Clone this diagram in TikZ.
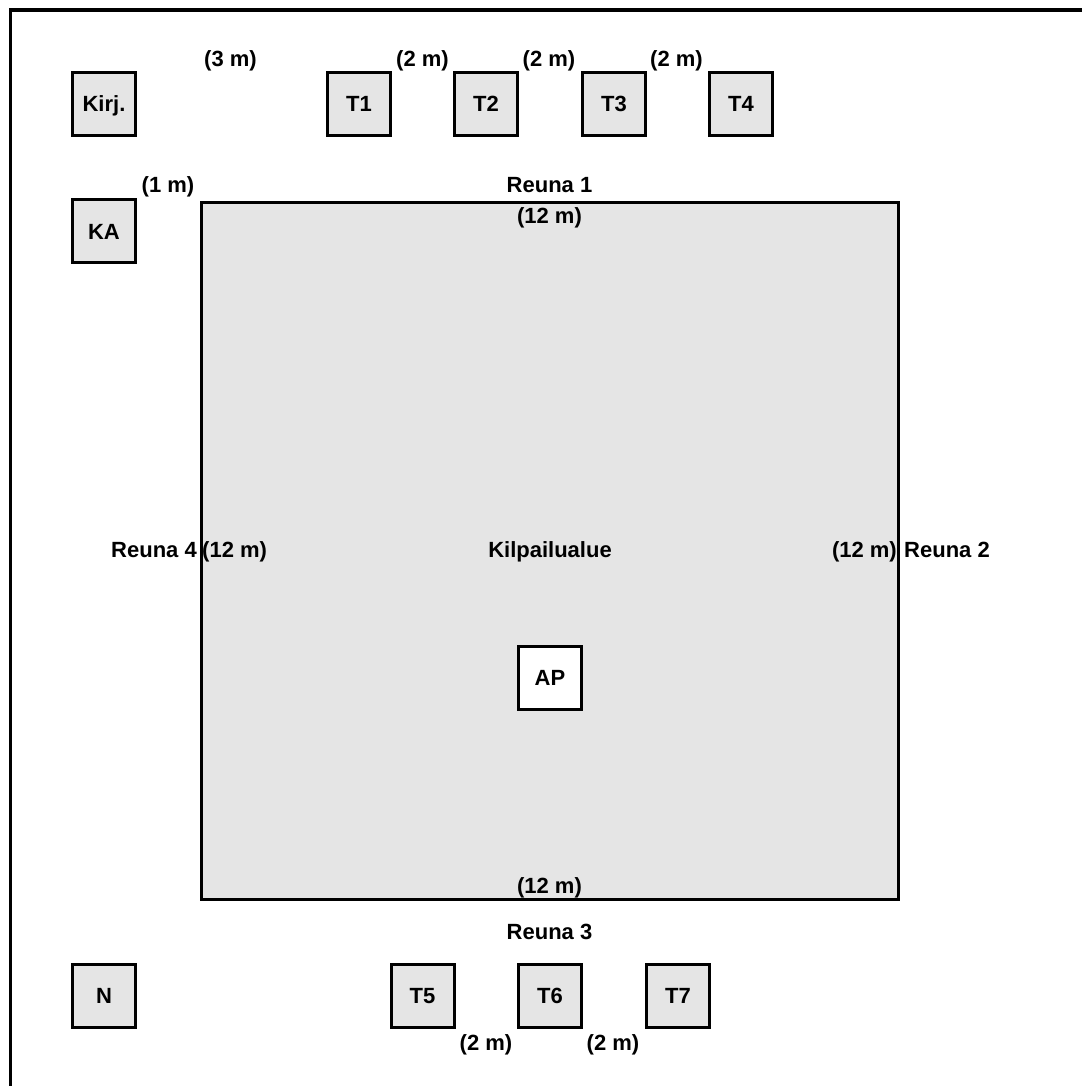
\documentclass[tikz,border=0pt]{standalone}
\usepackage{fontspec}
\setmainfont{Liberation Sans}
\begin{document}
\begin{tikzpicture}[x=1pt,y=-1pt,
  every node/.style={font=\fontsize{22}{26}\selectfont\bfseries, inner sep=0pt},
  lbl/.style={anchor=base},
  post/.style={draw, line width=3pt, fill=black!10, minimum size=63pt, text height=16pt, text depth=0pt},
  wpost/.style={post, fill=white},
  frame/.style={line width=3.5pt, line cap=rect},
  area/.style={draw, line width=3pt, fill=black!10}]
\useasboundingbox (0,0) rectangle (1081,1086);
\fill[white] (0,0) rectangle (1081,1086);
% outer frame (top and left sides)
\coordinate (fbl) at (10.5,1086);
\coordinate (ftl) at (10.5,10);
\coordinate (ftr) at (1081,10);
\draw[frame] (fbl) -- (ftl) -- (ftr);
% competition area
\node[area, minimum size=697pt] (alue) at (550,550.5) {};
% posts
\node[post] (kirj) at (104,104) {Kirj.};
\node[post] (ka) at (104,231) {KA};
\node[post] (n) at (104,995.5) {N};
\node[post] (t1) at (359,104) {T1};
\node[post] (t2) at (486,104) {T2};
\node[post] (t3) at (614,104) {T3};
\node[post] (t4) at (741,104) {T4};
\node[post] (t5) at (422.5,995.5) {T5};
\node[post] (t6) at (550,995.5) {T6};
\node[post] (t7) at (678,995.5) {T7};
\node[wpost] (ap) at (550,677.5) {AP};
% labels
\node[lbl] (l3m) at (230.5,67) {(3 m)};
\node[lbl] (l2a) at (422.5,66.5) {(2 m)};
\node[lbl] (l2b) at (549,66.5) {(2 m)};
\node[lbl] (l2c) at (676.5,66.5) {(2 m)};
\node[lbl] (l1m) at (168,193) {(1 m)};
\node[lbl] (r1) at (549.5,193) {Reuna 1};
\node[lbl] (r1m) at (549.5,223) {(12 m)};
\node[lbl, anchor=base east] (r4) at (197,557) {Reuna 4};
\node[lbl, anchor=base west] (r4m) at (202,557) {(12 m)};
\node[lbl] (kil) at (550,557.5) {Kilpailualue};
\node[lbl, anchor=base east] (r2m) at (897,557) {(12 m)};
\node[lbl, anchor=base west] (r2) at (904,557) {Reuna 2};
\node[lbl] (r3m) at (549.5,893) {(12 m)};
\node[lbl] (r3) at (549.5,939) {Reuna 3};
\node[lbl] (l2d) at (486,1050) {(2 m)};
\node[lbl] (l2e) at (613,1050) {(2 m)};
\end{tikzpicture}
\end{document}
